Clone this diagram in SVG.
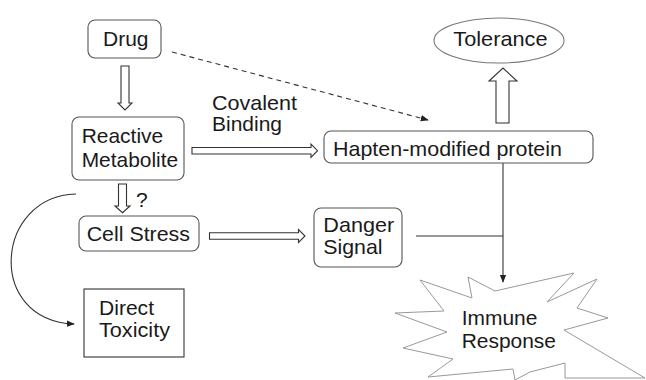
<svg xmlns="http://www.w3.org/2000/svg" width="646" height="380" viewBox="0 0 646 380">
<style>
  .box { fill: #fff; stroke: #555; stroke-width: 1.1; }
  .t { font-family: "Liberation Sans", Arial, sans-serif; font-size: 21px; fill: #1a1a1a; }
  .hollow { fill: #fff; stroke: #333; stroke-width: 1.1; }
  .line { fill: none; stroke: #333; stroke-width: 1.1; }
</style>
<defs>
  <marker id="ah" viewBox="0 0 10 10" refX="9" refY="5" markerWidth="8" markerHeight="8" markerUnits="userSpaceOnUse" orient="auto">
    <path d="M0,1 L10,5 L0,9 Z" fill="#222"/>
  </marker>
</defs>
<rect width="646" height="380" fill="#fff"/>

<g id="connectors">
  <polygon class="hollow" points="121,66 129,66 129,103 132,103 125,110 118,103 121,103"/>
  <polygon class="hollow" points="192,147.5 311,147.5 311,144 317.5,150.7 311,157.3 311,154 192,154"/>
  <polygon class="hollow" points="496,123 509,123 509,81 517,81 503,68 489,81 496,81"/>
  <polygon class="hollow" points="118.5,184 126.5,184 126.5,206 130,206 122.5,212.7 115,206 118.5,206"/>
  <polygon class="hollow" points="209.5,232.7 298.5,232.7 298.5,229.5 305,236 298.5,242.5 298.5,239.3 209.5,239.3"/>
  <line class="line" x1="172" y1="52" x2="428" y2="120" stroke-dasharray="5,4" marker-end="url(#ah)"/>
  <path class="line" d="M76,194 C-5,196 -15,320 74,324" marker-end="url(#ah)"/>
  <line class="line" x1="416" y1="236" x2="503" y2="236"/>
  <line class="line" x1="503" y1="163" x2="503" y2="282" stroke-width="1.5" marker-end="url(#ah)"/>
  <text class="t" x="212" y="109.5" font-size="19.5" textLength="85" lengthAdjust="spacingAndGlyphs">Covalent</text>
  <text class="t" x="212" y="131" font-size="19.5" textLength="70" lengthAdjust="spacingAndGlyphs">Binding</text>
  <text class="t" x="136" y="207" font-size="18">?</text>
</g>

<g id="drug">
  <rect class="box" x="88" y="20" width="73" height="38" rx="7"/>
  <text class="t" x="103" y="45.7" textLength="45.5" lengthAdjust="spacingAndGlyphs">Drug</text>
</g>

<g id="reactive-metabolite">
  <rect class="box" x="72" y="117" width="112" height="63" rx="7"/>
  <text class="t" x="81.7" y="143.3" textLength="81.5" lengthAdjust="spacingAndGlyphs">Reactive</text>
  <text class="t" x="81.7" y="166.7" textLength="96.5" lengthAdjust="spacingAndGlyphs">Metabolite</text>
</g>

<g id="hapten-modified-protein">
  <rect class="box" x="324" y="131" width="269" height="32" rx="7"/>
  <text class="t" x="333" y="155.5" textLength="229" lengthAdjust="spacingAndGlyphs">Hapten-modified protein</text>
</g>

<g id="tolerance">
  <ellipse cx="499" cy="40.5" rx="65" ry="22.5" fill="#fff" stroke="#777" stroke-width="1.1"/>
  <text class="t" x="453.3" y="46" textLength="94.3" lengthAdjust="spacingAndGlyphs">Tolerance</text>
</g>

<g id="cell-stress">
  <rect class="box" x="79" y="216" width="120" height="35" rx="7"/>
  <text class="t" x="86.7" y="240.7" textLength="103.3" lengthAdjust="spacingAndGlyphs">Cell Stress</text>
</g>

<g id="danger-signal">
  <rect class="box" x="314" y="208" width="88" height="59" rx="7"/>
  <text class="t" x="323.3" y="231.7" textLength="71" lengthAdjust="spacingAndGlyphs">Danger</text>
  <text class="t" x="323.3" y="254" textLength="59.3" lengthAdjust="spacingAndGlyphs">Signal</text>
</g>

<g id="direct-toxicity">
  <rect x="84" y="289" width="100" height="68" fill="#fff" stroke="#333" stroke-width="1.1"/>
  <text class="t" x="99" y="315" textLength="55" lengthAdjust="spacingAndGlyphs">Direct</text>
  <text class="t" x="99" y="336.7" textLength="71" lengthAdjust="spacingAndGlyphs">Toxicity</text>
</g>

<g id="immune-response">
  <polygon points="495,291 468,277 472,298 420,280 444,311 395,313 447,332 403,348 453,359 428,377 513,369 515,380 530,372 565,363 565,378 645,378 564,330 608,318 577,308 597,279 547,302 574,273" fill="#fff" stroke="#999" stroke-width="1"/>
  <text class="t" x="461.7" y="325" textLength="75.7" lengthAdjust="spacingAndGlyphs">Immune</text>
  <text class="t" x="461.7" y="347.5" textLength="94.3" lengthAdjust="spacingAndGlyphs">Response</text>
</g>
</svg>
